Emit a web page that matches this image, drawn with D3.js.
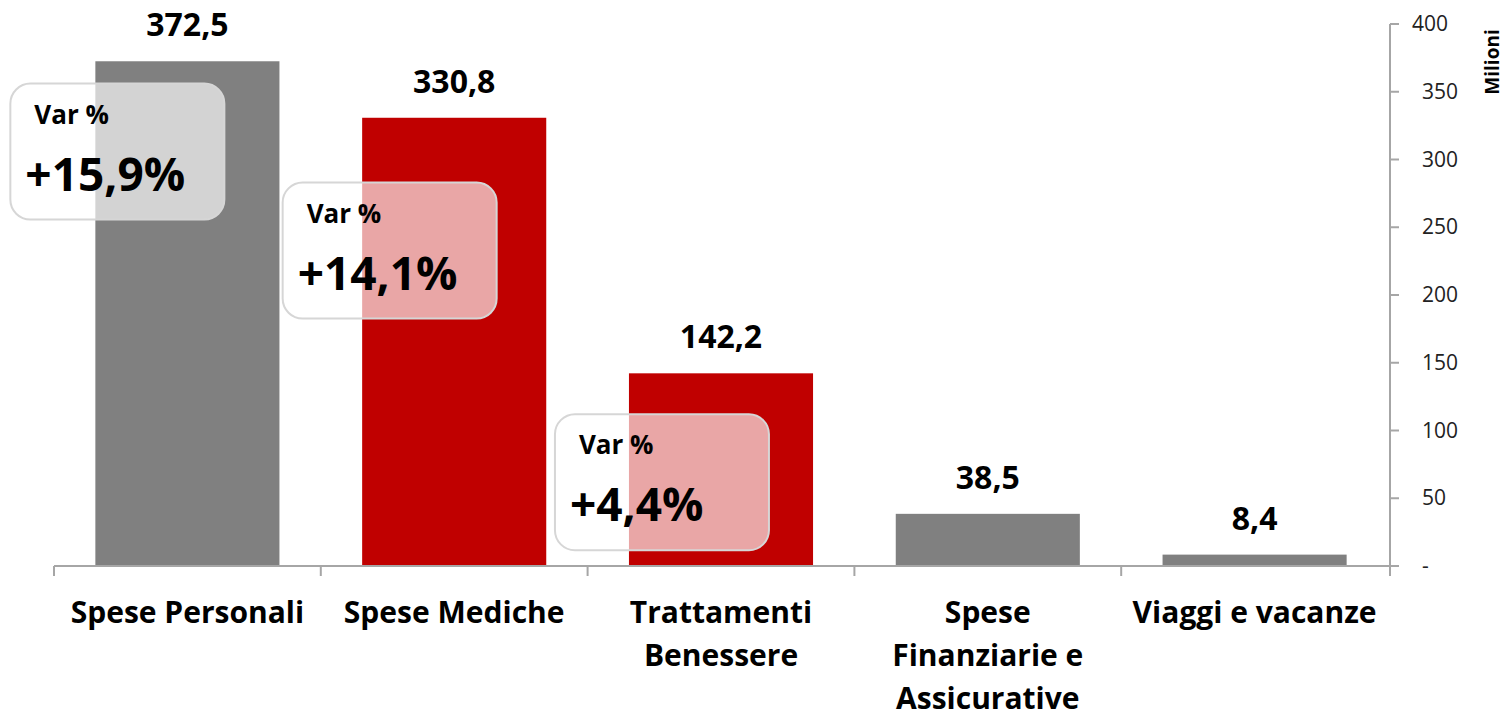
<!DOCTYPE html>
<html>
<head>
<meta charset="utf-8">
<script src="https://cdn.jsdelivr.net/npm/d3@7"></script>
<style>
  body { margin: 0; background: #fff; }
  text { font-family: 'Open Sans', Lato, sans-serif; }
</style>
</head>
<body>
<div id="chart"></div>
<script>
(function() {

const width = 1505,
      height = 718

// data
const categories = ['Spese Personali', 'Spese Mediche', 'Trattamenti Benessere', 'Spese Finanziarie e Assicurative', 'Viaggi e vacanze']
const categoryLines = [['Spese Personali'], ['Spese Mediche'], ['Trattamenti', 'Benessere'], ['Spese', 'Finanziarie e', 'Assicurative'], ['Viaggi e vacanze']]
const values = [372.5, 330.8, 142.2, 38.5, 8.4]
const valueLabels = ['372,5', '330,8', '142,2', '38,5', '8,4']
const highlighted = [false, true, true, false, false]
const yTicks = [0, 50, 100, 150, 200, 250, 300, 350, 400]
const varCategories = ['Spese Personali', 'Spese Mediche', 'Trattamenti Benessere']
const varLabels = ['+15,9%', '+14,1%', '+4,4%']
const varAnchor = [356, 283, 112] // box top, in axis units

const margin = {left: 54, right: 117, top: 24, bottom: 152}

const svg = d3.select('#chart')
  .append('svg')
  .attr('width', width)
  .attr('height', height)

const x = d3.scaleBand()
  .domain(categories)
  .range([margin.left, width - margin.right])
  .paddingInner(0.31)
  .paddingOuter(0.155)

const y = d3.scaleLinear()
  .domain([0, 400])
  .range([height - margin.bottom, margin.top])

const axisColor = '#a6a6a6'
const y0 = y(0)
const xRight = width - margin.right

// bars
svg.selectAll('.bar')
  .data(values)
  .enter()
  .append('rect')
  .attr('class', 'bar')
  .attr('x', (d, i) => x(categories[i]))
  .attr('width', x.bandwidth())
  .attr('y', d => y(d))
  .attr('height', d => y0 - y(d))
  .style('fill', (d, i) => highlighted[i] ? '#c00000' : '#808080')

// value labels
svg.selectAll('.val')
  .data(values)
  .enter()
  .append('text')
  .attr('class', 'val')
  .attr('x', (d, i) => x(categories[i]) + x.bandwidth() / 2)
  .attr('y', d => y(d) - 25)
  .attr('text-anchor', 'middle')
  .style('font-size', '32px')
  .style('font-weight', 'bold')
  .text((d, i) => valueLabels[i])

// x axis line + ticks at band edges
svg.append('line')
  .attr('x1', margin.left).attr('x2', xRight + 1)
  .attr('y1', y0).attr('y2', y0)
  .style('stroke', axisColor).style('stroke-width', 2)

d3.range(categories.length).forEach(i => {
  const bx = margin.left + i * (xRight - margin.left) / categories.length
  svg.append('line')
    .attr('x1', bx).attr('x2', bx)
    .attr('y1', y0).attr('y2', y0 + 10)
    .style('stroke', axisColor).style('stroke-width', 2)
})

// category labels
categoryLines.forEach((lines, i) => {
  const cx = x(categories[i]) + x.bandwidth() / 2
  const t = svg.append('text')
    .attr('x', cx)
    .attr('y', 623)
    .attr('text-anchor', 'middle')
    .style('font-size', '30px')
    .style('font-weight', 'bold')
  lines.forEach((l, j) => {
    t.append('tspan')
      .attr('x', cx)
      .attr('dy', j === 0 ? 0 : 43)
      .text(l)
  })
})

// right y axis
svg.append('line')
  .attr('x1', xRight + 2).attr('x2', xRight + 2)
  .attr('y1', y(400)).attr('y2', y0 + 10)
  .style('stroke', axisColor).style('stroke-width', 2)

svg.selectAll('.ytick')
  .data(yTicks)
  .enter()
  .append('line')
  .attr('x1', xRight + 2).attr('x2', xRight + 11)
  .attr('y1', d => y(d)).attr('y2', d => y(d))
  .style('stroke', axisColor).style('stroke-width', 2)

svg.selectAll('.ylab')
  .data(yTicks)
  .enter()
  .append('text')
  .attr('x', d => d === 400 ? xRight + 24 : xRight + 34)
  .attr('y', d => y(d) + 7)
  .style('font-size', '21px')
  .style('fill', '#222')
  .text(d => d === 0 ? '-' : d)

svg.append('text')
  .attr('transform', 'translate(' + (width - 6) + ',' + 62 + ') rotate(-90)')
  .attr('text-anchor', 'middle')
  .style('font-size', '19px')
  .style('font-weight', 'bold')
  .text('Milioni')

// variation callouts
const boxW = 214, boxH = 136
varCategories.forEach((c, i) => {
  const bx = x(c) - 85 + i * 5.5
  const by = y(varAnchor[i])
  const g = svg.append('g').attr('transform', 'translate(' + bx + ',' + by + ')')
  g.append('rect')
    .attr('width', boxW).attr('height', boxH)
    .attr('rx', 20).attr('ry', 20)
    .style('fill', '#fff').style('fill-opacity', 0.65)
    .style('stroke', '#d6d6d6').style('stroke-width', 2)
  g.append('text')
    .attr('x', 24).attr('y', 40)
    .style('font-size', '26px')
    .style('font-weight', 'bold')
    .text('Var %')
  g.append('text')
    .attr('x', 15).attr('y', 107)
    .style('font-size', '46px')
    .style('font-weight', 'bold')
    .text(varLabels[i])
})

})()
</script>
</body>
</html>
